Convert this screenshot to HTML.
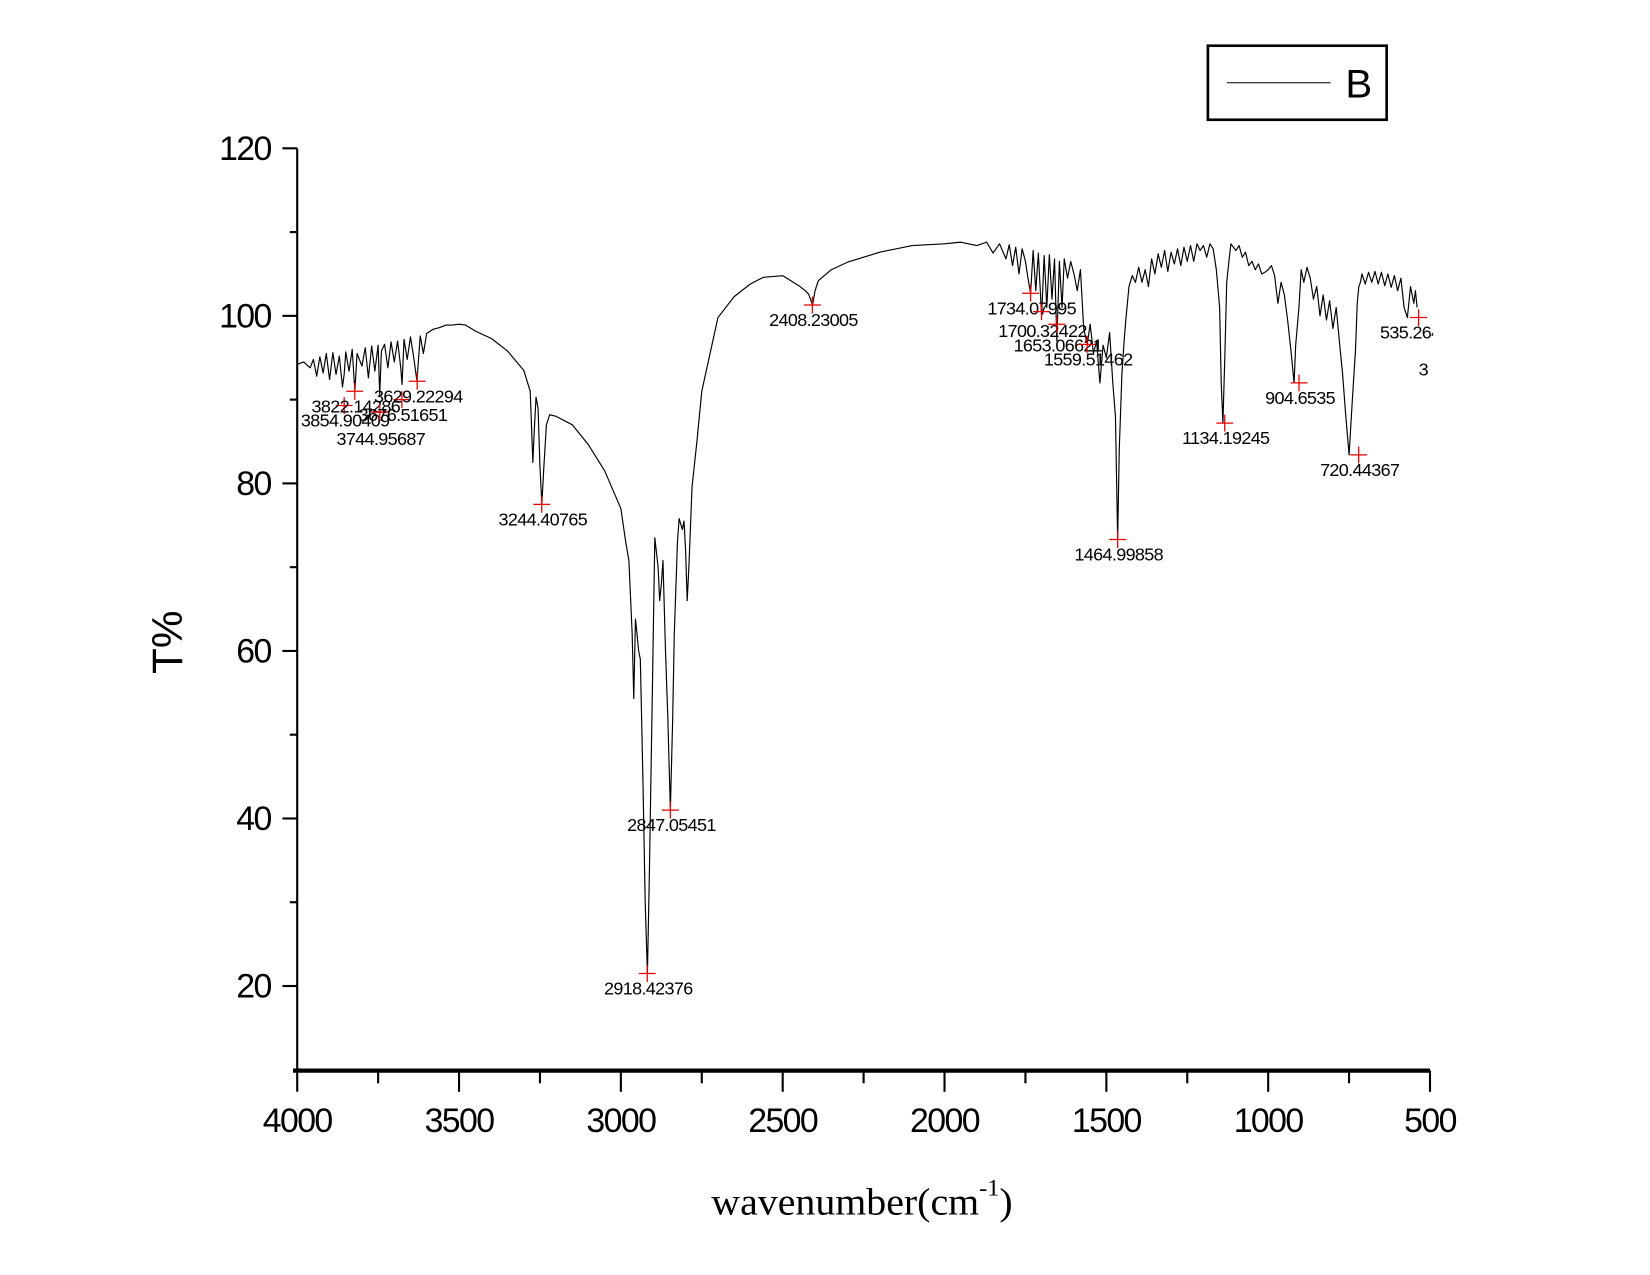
<!DOCTYPE html>
<html><head><meta charset="utf-8"><style>
html,body{margin:0;padding:0;background:#fff;}
svg{display:block;}
text{font-family:"Liberation Sans",Arial,sans-serif;}
</style></head><body>
<svg id="chart" width="1650" height="1275" viewBox="0 0 1560 1205" xmlns="http://www.w3.org/2000/svg">
<defs><clipPath id="plotclip"><rect x="270" y="100" width="1085" height="920"/></clipPath></defs>
<g id="axes"></g>
<g id="series" clip-path="url(#plotclip)"></g>
<g id="peaks" clip-path="url(#plotclip)"></g>
<text x="172" y="607" font-size="40" text-anchor="middle" transform="rotate(-90 172 607)">T%</text>
<text x="815" y="1148" font-size="36" text-anchor="middle" style="font-family:'Liberation Serif',serif" textLength="285" lengthAdjust="spacingAndGlyphs">wavenumber(cm<tspan font-size="22" dy="-18">-1</tspan><tspan dy="18">)</tspan></text>
<g>
<rect x="1142" y="43" width="169" height="70" fill="none" stroke="#000" stroke-width="2.5"/>
<line x1="1160" y1="78" x2="1258" y2="78" stroke="#000" stroke-width="1"/>
<text x="1272" y="92" font-size="38">B</text>
</g>
</svg>
<script>
const xTicks=[4000,3500,3000,2500,2000,1500,1000,500];
const yTicks=[20,40,60,80,100,120];
const wn=[4000,3980,3960,3950,3940,3930,3920,3910,3900,3890,3880,3870,3860,3855,3850,3840,3830,3822,3815,3800,3790,3780,3770,3760,3750,3745,3740,3730,3720,3710,3700,3690,3680,3676,3670,3660,3650,3640,3630,3620,3610,3600,3580,3560,3540,3520,3500,3480,3450,3400,3350,3300,3280,3272,3268,3262,3256,3250,3244,3238,3230,3220,3200,3150,3100,3050,3000,2985,2975,2965,2960,2955,2950,2945,2940,2932,2925,2918,2912,2905,2895,2885,2880,2875,2870,2862,2855,2847,2840,2835,2825,2820,2810,2805,2800,2795,2790,2780,2765,2750,2700,2650,2600,2560,2500,2450,2430,2420,2408,2400,2390,2350,2300,2200,2100,2000,1950,1900,1870,1850,1830,1810,1800,1790,1780,1770,1760,1750,1742,1734,1726,1718,1710,1700,1692,1684,1676,1668,1660,1653,1645,1637,1630,1620,1610,1600,1590,1580,1570,1559,1550,1540,1530,1520,1510,1500,1490,1480,1472,1465,1460,1452,1445,1440,1430,1420,1410,1400,1390,1380,1370,1360,1350,1340,1330,1320,1310,1300,1290,1280,1270,1260,1250,1240,1230,1220,1210,1200,1190,1180,1170,1160,1150,1145,1140,1134,1128,1120,1115,1100,1090,1080,1070,1060,1050,1040,1030,1020,1010,1000,990,980,970,960,950,940,930,920,915,905,898,890,880,870,860,850,840,830,820,810,800,790,780,770,760,750,740,730,725,720,715,710,700,690,680,670,660,650,640,630,620,610,600,590,580,570,560,550,545,540,535,530,520,510,500];
const tVal=[94.2,94.5,93.8,94.8,92.8,95.1,93.2,95.5,92.4,95.6,93.0,95.2,91.5,93.0,95.7,93.4,96.0,91.0,95.5,94.0,96.2,92.6,96.4,93.4,96.5,90.5,95.8,96.6,93.8,96.9,94.5,97.0,93.8,91.8,97.2,94.8,97.5,95.0,92.2,97.6,95.5,97.9,98.4,98.6,98.9,98.9,99.0,98.9,98.2,97.3,95.8,93.5,91.0,82.5,86.0,90.3,89.0,82.0,77.5,82.0,87.0,88.2,88.0,87.0,84.6,81.5,77.0,73.0,70.8,62.0,54.3,63.8,62.0,60.0,59.0,45.0,30.0,21.5,33.0,50.0,73.5,70.0,66.0,68.0,70.8,60.0,52.0,41.0,52.0,62.0,73.0,75.8,74.5,75.5,72.0,66.0,70.0,79.6,85.0,91.0,99.8,102.3,103.8,104.6,104.8,103.6,103.0,102.6,101.3,103.0,104.2,105.5,106.4,107.6,108.4,108.6,108.8,108.4,108.8,107.5,108.6,106.8,108.5,106.0,108.2,105.0,108.0,106.5,104.5,102.7,107.8,103.0,107.5,100.0,107.2,101.0,107.3,102.0,106.8,97.0,106.5,101.0,106.8,104.5,106.5,105.0,103.0,105.5,98.5,96.6,99.0,95.5,97.0,92.0,96.5,95.0,98.0,92.0,88.0,73.3,84.0,93.0,97.0,99.5,103.5,104.8,104.0,105.8,104.0,105.5,103.5,106.8,105.0,107.4,105.8,107.8,105.3,107.6,106.2,108.0,106.0,108.2,106.5,108.4,106.5,108.6,107.8,108.4,107.0,108.6,108.0,105.5,101.0,92.0,87.2,95.0,104.0,107.0,108.6,107.8,108.4,107.0,107.6,106.0,106.5,105.5,106.2,105.0,105.2,105.5,106.0,104.8,101.5,104.0,102.5,99.5,96.0,92.0,96.5,101.0,105.5,104.0,105.8,104.5,102.0,103.5,100.0,102.5,99.5,101.8,98.5,101.0,97.0,93.0,88.0,83.4,90.0,96.0,101.5,103.5,104.0,105.0,103.8,105.2,104.0,105.3,103.8,105.2,103.6,105.0,103.4,104.8,103.0,104.5,101.0,99.8,103.5,101.5,103.0,101.0];
const peakWn=[3854.90409,3822.14286,3744.95687,3676.51651,3629.22294,3244.40765,2918.42376,2847.05451,2408.23005,1734.07995,1700.32422,1653.06621,1559.51462,1464.99858,1134.19245,904.6535,720.44367,535.26];
const peakT=[89.3,91.0,88.5,90.0,92.2,77.5,21.5,41.0,101.3,102.7,100.5,99.0,96.6,73.3,87.2,92.0,83.4,99.8];
const peakLabel=["3854.90409","3822.14286","3744.95687","3676.51651","3629.22294","3244.40765","2918.42376","2847.05451","2408.23005","1734.07995","1700.32422","1653.06621","1559.51462","1464.99858","1134.19245","904.6535","720.44367","535.26421"];
const labelDy=[0,0,11,0,0,0,0,0,0,0,4,6,0,0,0,0,0,0];

const NS="http://www.w3.org/2000/svg";
const X0=281,X1=1352,YT=140,YB=1012,TMIN=9.9,TMAX=120;
function sx(w){return X0+(4000-w)*(X1-X0)/3500;}
function sy(t){return YB-(t-TMIN)*(YB-YT)/(TMAX-TMIN);}
function mk(tag,attrs,parent){const e=document.createElementNS(NS,tag);for(const k in attrs)e.setAttribute(k,attrs[k]);parent.appendChild(e);return e;}
const axes=document.getElementById('axes');
let e=mk('line',{x1:X0,y1:YT,x2:X0,y2:YB+2,stroke:'#000','stroke-width':2},axes);


e=mk('line',{x1:X0-4,y1:YB,x2:X1,y2:YB,stroke:'#000','stroke-width':4},axes);


for(let w=4000;w>=500;w-=250){
  const major=(w%500===0);
  e=mk('line',{x1:sx(w),y1:YB,x2:sx(w),y2:YB+(major?20:12),stroke:'#000','stroke-width':2},axes);
  
  
}
xTicks.forEach(w=>{
  const t=mk('text',{x:sx(w),y:YB+58,'font-size':32,'text-anchor':'middle','letter-spacing':'-1.5'},axes);
  t.textContent=w;
  
  
});
for(let v=20;v<=120;v+=10){
  const major=(v%20===0);
  e=mk('line',{x1:X0-(major?14:7),y1:sy(v),x2:X0,y2:sy(v),stroke:'#000','stroke-width':2},axes);
  
  
}
yTicks.forEach(v=>{
  const t=mk('text',{x:256,y:sy(v)+11,'font-size':32,'text-anchor':'end','letter-spacing':'-1.5'},axes);
  t.textContent=v;
  
  
});
const series=document.getElementById('series');
let d='';
wn.forEach((w,i)=>{d+=(i?'L':'M')+sx(w).toFixed(1)+' '+sy(tVal[i]).toFixed(1);});
e=mk('path',{d:d,fill:'none',stroke:'#000','stroke-width':1.1,'stroke-linejoin':'round'},series);


const peaks=document.getElementById('peaks');
peakWn.forEach((w,i)=>{
  const x=sx(w),y=sy(peakT[i]);
  const g=mk('g',{},peaks);
  
  
  mk('line',{x1:x-8,y1:y,x2:x+8,y2:y,stroke:'#e00','stroke-width':1.2},g);
  mk('line',{x1:x,y1:y-8,x2:x,y2:y+8,stroke:'#e00','stroke-width':1.2},g);
  const t=mk('text',{x:x+1,y:y+20+labelDy[i],'font-size':17,'text-anchor':'middle','letter-spacing':'-0.6'},peaks);
  t.textContent=peakLabel[i];
  
  
});
const t3=mk('text',{x:1346,y:355,'font-size':17,'text-anchor':'middle'},peaks);
t3.textContent='3';


</script>
</body></html>
